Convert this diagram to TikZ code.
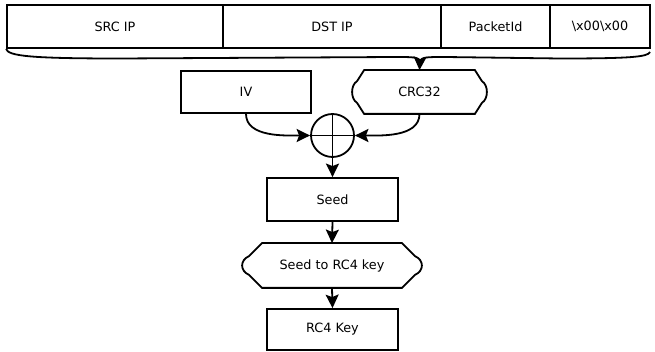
\documentclass[tikz,border=0pt]{standalone}
\usepackage{fontspec}
\setmainfont{DejaVu Sans}
\usetikzlibrary{arrows.meta,calc}

% Outline of a "preparation" box: chamfered corners and rounded bulging sides.
% #1 node name, #2 horizontal chamfer, #3 vertical chamfer, #4 bulge depth, #5 curve handle
\newcommand\prepoutline[5]{%
  \draw let \p1=(#1.north west), \p2=(#1.south east) in
    (\x1+#2pt,\y1) -- (\x2-#2pt,\y1) -- (\x2-#4pt,\y1-#3pt)
    .. controls (\x2+#4pt/3,\y1-#3pt-#5pt) and (\x2+#4pt/3,\y2+#3pt+#5pt) .. (\x2-#4pt,\y2+#3pt)
    -- (\x2-#2pt,\y2) -- (\x1+#2pt,\y2) -- (\x1+#4pt,\y2+#3pt)
    .. controls (\x1-#4pt/3,\y2+#3pt+#5pt) and (\x1-#4pt/3,\y1-#3pt-#5pt) .. (\x1+#4pt,\y1-#3pt) -- cycle;}

\begin{document}
\begin{tikzpicture}[x=1pt,y=-1pt,
  line width=1.8pt,
  font=\fontsize{12.8}{15}\selectfont,
  box/.style={draw, rectangle, inner sep=0pt},
  prep/.style={rectangle, inner sep=0pt},
  flow/.style={-{Stealth[length=13.5pt,width=13pt,inset=2.5pt]}},
]
\useasboundingbox (0,0) rectangle (655,352);

% packet header fields
\node[box, minimum width=216pt, minimum height=43pt] (src) at (115,26.5) {SRC IP};
\node[box, minimum width=218pt, minimum height=43pt] (dst) at (332,26.5) {DST IP};
\node[box, minimum width=109pt, minimum height=43pt] (pid) at (495.5,26.5) {PacketId};
\node[box, minimum width=100pt, minimum height=43pt] (pad) at (600,26.5) {\textbackslash x00\textbackslash x00};

% brace collecting the header fields
\coordinate (tip) at (420,59);
\draw (src.south west) .. controls (8,56) and (30,58.5) .. (120,58.5)
  -- (395,57) .. controls (413,57) and (418,57) .. (420,61)
  .. controls (422,57) and (427,57) .. (445,57)
  -- (560,58.5) .. controls (630,58.5) and (648,57) .. (650,52);

% key material
\node[box, minimum width=130pt, minimum height=42pt] (iv) at (246,92) {IV};
\node[prep, minimum width=133pt, minimum height=42pt] (crc) at (419.5,92) {CRC32};
\prepoutline{crc}{12}{11}{5}{4}

% xor
\node[draw, circle, minimum size=43pt, inner sep=0pt] (xor) at (332.5,135.5) {};
\draw (xor.north) -- (xor.south);
\draw (xor.west) -- (xor.east);

\node[box, minimum width=131pt, minimum height=43pt] (seed) at (332.5,199.5) {Seed};
\node[prep, minimum width=178pt, minimum height=43pt] (conv) at (332,265.5) {Seed to RC4 key};
\prepoutline{conv}{20}{13}{7}{4}
\node[box, minimum width=131pt, minimum height=41pt] (key) at (332.5,329.5) {RC4 Key};

% connectors
\draw[flow] (tip) -- (crc.north);
\draw[flow] (iv.south) to[out=-90, in=180, looseness=0.9] (xor.west);
\draw[flow] (crc.south) to[out=-90, in=0, looseness=0.9] (xor.east);
\draw[flow] (xor.south) -- (seed.north);
\draw[flow] (seed.south) -- (conv.north);
\draw[flow] (conv.south) -- (key.north);
\end{tikzpicture}
\end{document}
